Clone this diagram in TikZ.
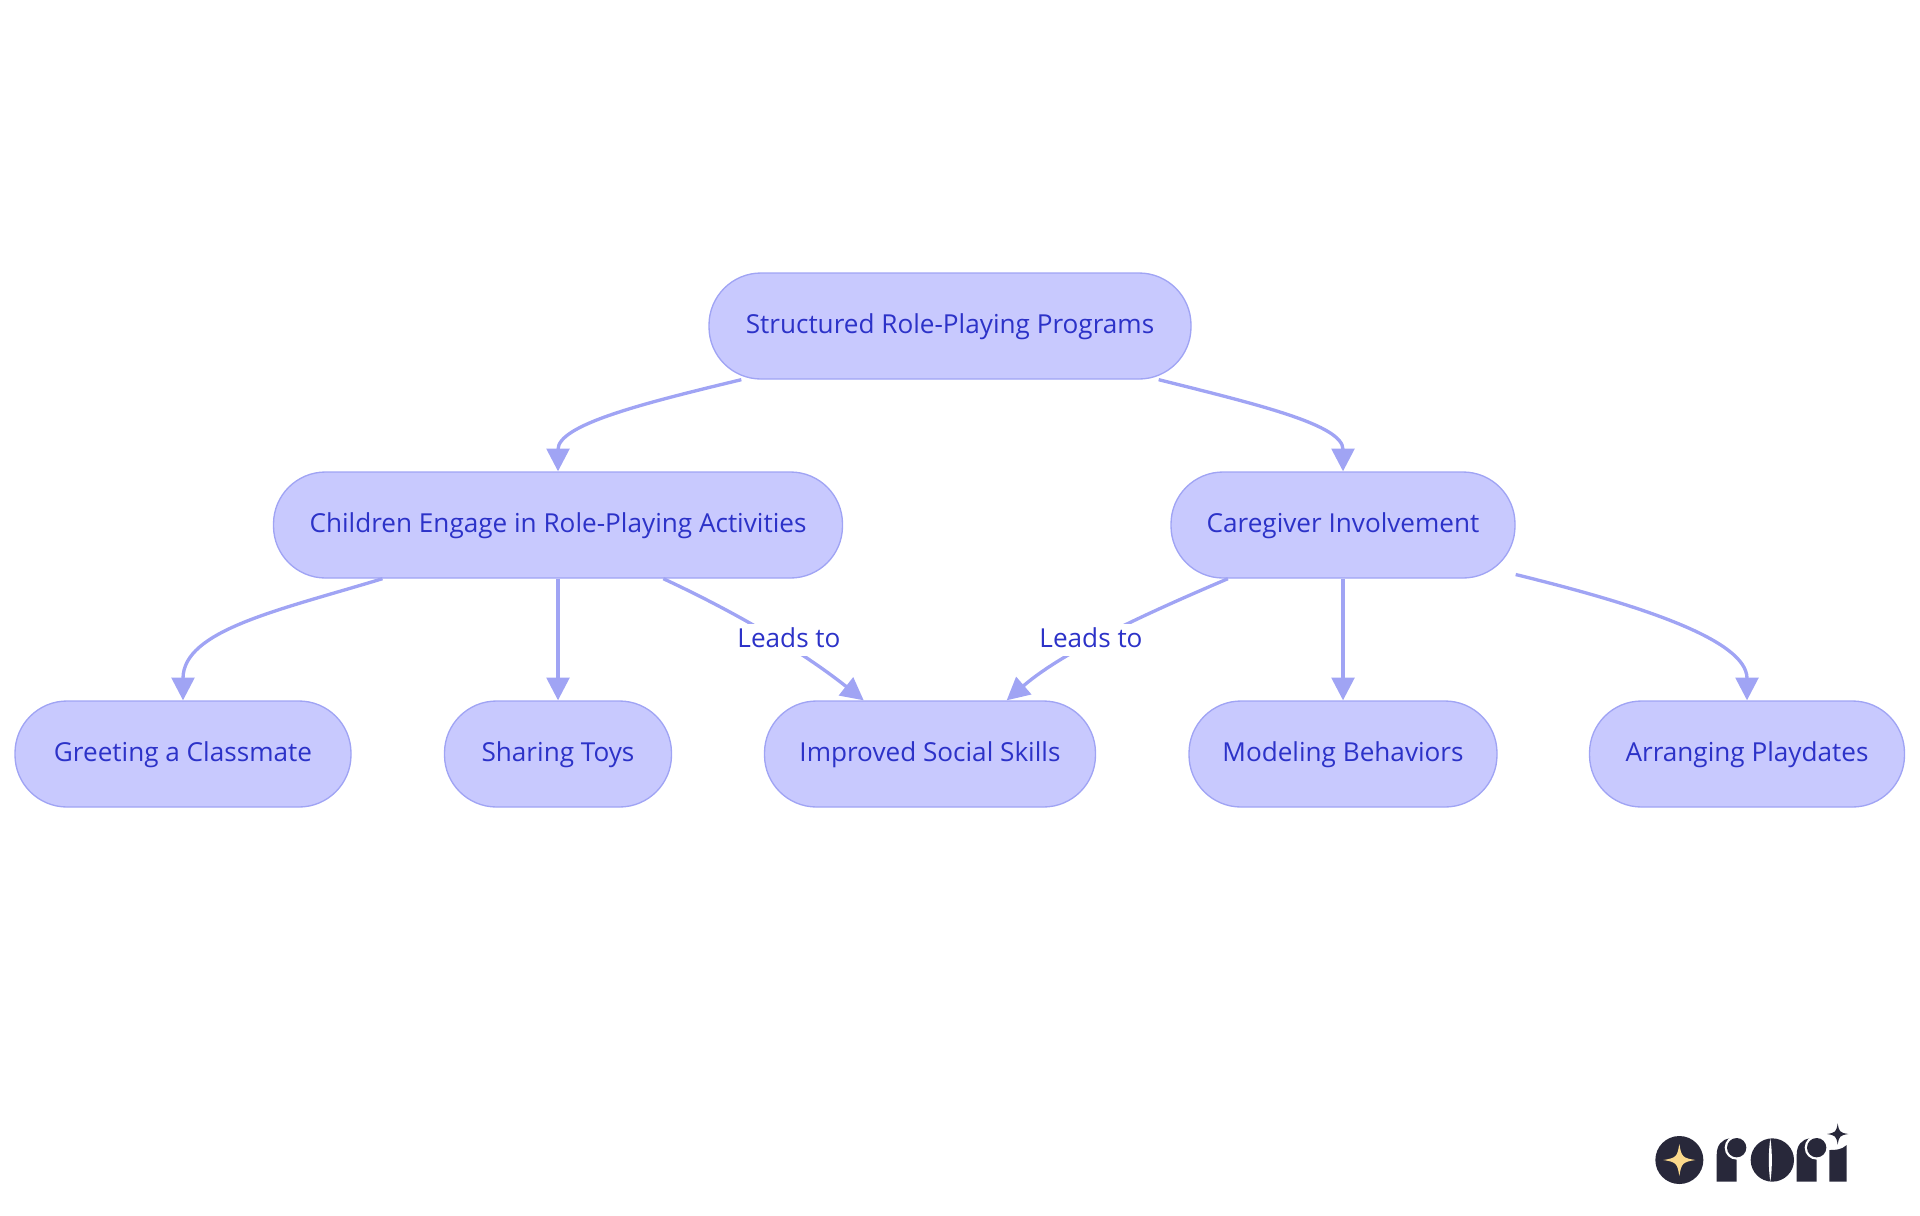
\documentclass[tikz,border=0pt]{standalone}
\usepackage{fontspec}
\setmainfont{Open Sans}
\usetikzlibrary{arrows.meta}
\definecolor{boxfill}{RGB}{200,201,254}
\definecolor{boxline}{RGB}{160,164,244}
\definecolor{boxtext}{RGB}{44,50,200}
\definecolor{logodark}{RGB}{40,40,58}
\definecolor{logostar}{RGB}{251,217,139}
\tikzset{wide/.style={minimum width=#1*0.75pt}}
\tikzset{link/.style={draw=boxline,line width=2.5pt,-{Triangle[length=17pt,width=17pt]}}}
\tikzset{leads/.style={fill=white,text=boxtext,font=\fontsize{19.6pt}{22pt}\selectfont,text height=15pt,text depth=4.5pt,inner xsep=0pt,inner ysep=2.5pt}}
\newcommand\Spark[4]{%
\fill[#3] (#1,#2-#4) .. controls (#1+.13*#4,#2-.2*#4) and (#1+.2*#4,#2-.13*#4) .. (#1+#4,#2) .. controls (#1+.2*#4,#2+.13*#4) and (#1+.13*#4,#2+.2*#4) .. (#1,#2+#4) .. controls (#1-.13*#4,#2+.2*#4) and (#1-.2*#4,#2+.13*#4) .. (#1-#4,#2) .. controls (#1-.2*#4,#2-.13*#4) and (#1-.13*#4,#2-.2*#4) .. cycle;}

\begin{document}
\begin{tikzpicture}[x=.75pt,y=-.75pt]%
\useasboundingbox (0,0) rectangle (1920,1215);
\begin{scope}[shape=rectangle,minimum height=79.5pt,inner sep=0pt]%
\tikzstyle{every node}=[draw=boxline,line width=1pt,fill=boxfill,text=boxtext,rounded corners=39pt,text height=15pt,text depth=4.5pt,font=\fontsize{19.6pt}{22pt}\selectfont] %%
\node[wide=482] (programs) at (950,326)  {Structured Role-Playing Programs}; %%
\node[wide=569] (children) at (558,525)  {Children Engage in Role-Playing Activities}; %%
\node[wide=344] (caregiver) at (1343,525)  {Caregiver Involvement}; %%
\node[wide=336] (greeting) at (183,754)  {Greeting a Classmate}; %%
\node[wide=227] (sharing) at (558,754)  {Sharing Toys}; %%
\node[wide=331] (skills) at (930,754)  {Improved Social Skills}; %%
\node[wide=308] (modeling) at (1343,754)  {Modeling Behaviors}; %%
\node[wide=315] (playdates) at (1747,754)  {Arranging Playdates}; %%
\end{scope}
\draw[link] ([xshift=24.75pt]programs.south west) .. controls (640,404) and (558,425) .. (children.north); %%
\draw[link] ([xshift=-24.75pt]programs.south east) .. controls (1260,405) and (1343,425) .. (caregiver.north); %%
\draw[link] (children.197.8) .. controls (280,610) and (183,630) .. (greeting.north); %%
\draw[link] (children.south)--(sharing.north); %%
\draw[link] (caregiver.south)--(modeling.north); %%
\draw[link] (caregiver.-16.5) .. controls (1640,605) and (1747,640) .. (playdates.north); %%
\draw[link] (children.-27.4) .. controls (735,612) and (800,650) .. (skills.141); %%
\draw[link] (caregiver.205.2) .. controls (1150,612) and (1065,650) .. (skills.35.6); %%
\node[leads] (lead1) at (789,640) {Leads to}; %%
\node[leads] (lead2) at (1091,640) {Leads to}; %%
% logo
\begin{scope}[shift={(1620,1100)},x=.25pt,y=-.25pt]%
\fill[logodark] (178,180) circle (72);
\Spark{178}{180}{logostar}{48}
\fill[logodark] (290,245) -- (290,165) .. controls (290,135) and (305,118) .. (330,115) -- (350,170) -- (350,245) -- cycle;
\fill[white] (350,143) circle (36);
\fill[logodark] (350,143) circle (29);
\fill[logodark] (457,180) circle (65);
\fill[white] (451,116) .. controls (445,150) and (445,210) .. (451,244) .. controls (457,210) and (457,150) .. (451,116) -- cycle;
\fill[logodark] (530,245) -- (530,165) .. controls (530,135) and (545,118) .. (570,115) -- (590,170) -- (590,245) -- cycle;
\fill[white] (590,143) circle (36);
\fill[logodark] (590,143) circle (29);
\fill[logodark] (628,245) -- (628,150) .. controls (645,150) and (665,150) .. (680,135) -- (680,245) -- cycle;
\fill[white] (653,102) circle (38);
\Spark{653}{102}{logodark}{32}
\end{scope}
\end{tikzpicture}
\end{document}
